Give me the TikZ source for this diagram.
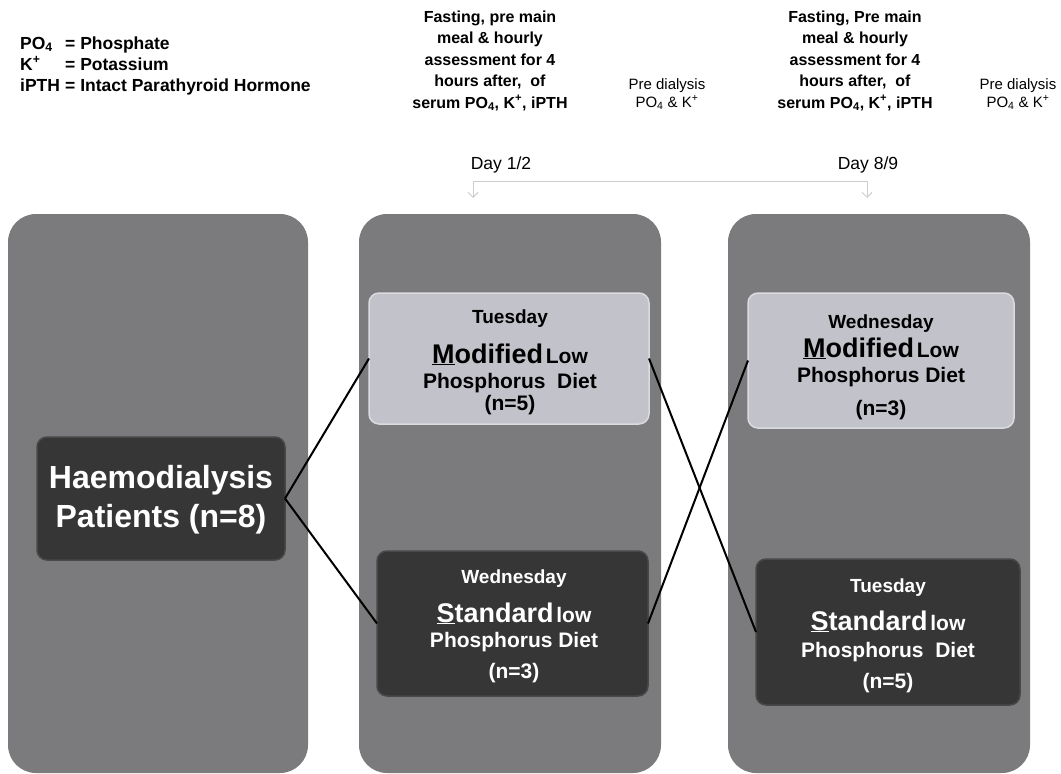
\documentclass[tikz,border=0pt]{standalone}
\usepackage{fontspec}
\setmainfont{Liberation Sans}
\usetikzlibrary{arrows.meta}
\definecolor{panelgray}{RGB}{123,123,125}
\definecolor{darkfill}{RGB}{54,54,54}
\definecolor{darkedge}{RGB}{72,72,72}
\definecolor{lightfill}{RGB}{194,194,202}
\definecolor{lightedge}{RGB}{218,218,224}
\definecolor{tickgray}{RGB}{205,205,205}
\tikzset{
  panel/.style={fill=panelgray, draw=none, rounded corners=28pt, inner sep=0pt, outer sep=0pt},
  lightbox/.style={fill=lightfill, draw=lightedge, line width=1.5pt, rounded corners=10pt, inner sep=0pt, outer sep=0pt},
  darkbox/.style={fill=darkfill, draw=darkedge, line width=1.5pt, rounded corners=10pt, inner sep=0pt, outer sep=0pt},
  conn/.style={line width=2pt, black},
  txt/.style={inner sep=0pt, anchor=base, align=center},
  legend/.style={inner sep=0pt, anchor=base west, font=\fontsize{17.5}{20}\selectfont\bfseries},
  topblock/.style={inner sep=0pt, anchor=base, font=\fontsize{16}{21}\selectfont\bfseries},
  small/.style={inner sep=0pt, anchor=base, font=\fontsize{15}{18}\selectfont},
  day/.style={inner sep=0pt, anchor=base, font=\fontsize{17.5}{20}\selectfont},
  tick/.style={draw=tickgray, line width=1pt},
}
\newcommand{\bigf}{\fontsize{27}{30}\selectfont\bfseries}
\newcommand{\medf}{\fontsize{21}{24}\selectfont\bfseries}
\newcommand{\dayf}{\fontsize{19}{22}\selectfont\bfseries}
\begin{document}
\begin{tikzpicture}[x=1pt,y=-1pt]
\useasboundingbox (0,0) rectangle (1061,774);

% legend
\node[legend] (l1a) at (20,49) {PO\textsubscript{4}};
\node[legend] (l1b) at (65,49) {= Phosphate};
\node[legend] (l2a) at (20,70) {K\textsuperscript{+}};
\node[legend] (l2b) at (65,70) {= Potassium};
\node[legend] (l3a) at (20,91) {iPTH};
\node[legend] (l3b) at (65,91) {= Intact Parathyroid Hormone};

% top blocks
\foreach \n/\cx/\fp in {a/490/pre, b/855/Pre}{
  \node[topblock] (\n1) at (\cx,22) {Fasting, \fp{} main};
  \node[topblock] (\n2) at (\cx,43.5) {meal \& hourly};
  \node[topblock] (\n3) at (\cx,65) {assessment for 4};
  \node[topblock] (\n4) at (\cx,86.5) {hours after,~~of};
  \node[topblock] (\n5) at (\cx,108) {serum PO\textsubscript{4}, K\textsuperscript{+}, iPTH};
}
\node[small] (pda) at (667,89) {Pre dialysis};
\node[small] (pdb) at (667,107) {PO\textsubscript{4} \& K\textsuperscript{+}};
\node[small] (pdc) at (1018,89) {Pre dialysis};
\node[small] (pdd) at (1018,107) {PO\textsubscript{4} \& K\textsuperscript{+}};

\node[day] (d1) at (501,169) {Day 1/2};
\node[day] (d2) at (868,169) {Day 8/9};
\coordinate (t1) at (473,198);
\coordinate (t2) at (867,198);
\coordinate (k1) at (473,181);
\coordinate (k2) at (867,181);
\draw[tick, -{Straight Barb[length=5pt,width=10pt]}] (k1) -- (t1);
\draw[tick, -{Straight Barb[length=5pt,width=10pt]}] (k2) -- (t2);
\draw[tick] (k1) -- (k2);

% panels
\node[panel, minimum width=300pt, minimum height=559pt] (p1) at (158,493.5) {};
\node[panel, minimum width=302pt, minimum height=559pt] (p2) at (510,493.5) {};
\node[panel, minimum width=302pt, minimum height=559pt] (p3) at (879,493.5) {};

% boxes
\node[darkbox, minimum width=248pt, minimum height=123pt] (hd) at (161,498.5) {};
\node[lightbox, minimum width=280pt, minimum height=131pt] (m1) at (509,358.5) {};
\node[darkbox, minimum width=271pt, minimum height=145pt] (s1) at (512.5,623.5) {};
\node[lightbox, minimum width=266pt, minimum height=135pt] (m2) at (881,360.5) {};
\node[darkbox, minimum width=264pt, minimum height=146pt] (s2) at (888,632) {};

% connectors
\draw[conn] (hd.east) -- (m1.west);
\draw[conn] (hd.east) -- (s1.west);
\draw[conn] (m1.east) -- (s2.west);
\draw[conn] (s1.east) -- (m2.west);

% text: haemodialysis
\node[txt, text=white, font=\fontsize{32}{36}\selectfont\bfseries] (h1) at (161,488) {Haemodialysis};
\node[txt, text=white, font=\fontsize{32}{36}\selectfont\bfseries] (h2) at (161,527) {Patients (n=8)};

% middle light
\node[txt, font=\dayf] (m1a) at (510,323) {Tuesday};
\node[txt] (m1b) at (510,363) {{\bigf\underline{M}odified} {\medf Low}};
\node[txt, font=\medf] (m1c) at (510,388) {Phosphorus~~Diet};
\node[txt, font=\medf] (m1d) at (510,410) {(n=5)};

% middle dark
\node[txt, text=white, font=\dayf] (s1a) at (514,583) {Wednesday};
\node[txt, text=white] (s1b) at (514,622) {{\bigf\underline{S}tandard} {\medf low}};
\node[txt, text=white, font=\medf] (s1c) at (514,647) {Phosphorus Diet};
\node[txt, text=white, font=\medf] (s1d) at (514,678) {(n=3)};

% right light
\node[txt, font=\dayf] (m2a) at (881,328) {Wednesday};
\node[txt] (m2b) at (881,357) {{\bigf\underline{M}odified} {\medf Low}};
\node[txt, font=\medf] (m2c) at (881,382) {Phosphorus Diet};
\node[txt, font=\medf] (m2d) at (881,415) {(n=3)};

% right dark
\node[txt, text=white, font=\dayf] (s2a) at (888,592) {Tuesday};
\node[txt, text=white] (s2b) at (888,630) {{\bigf\underline{S}tandard} {\medf low}};
\node[txt, text=white, font=\medf] (s2c) at (888,657) {Phosphorus~~Diet};
\node[txt, text=white, font=\medf] (s2d) at (888,688) {(n=5)};
\end{tikzpicture}
\end{document}
